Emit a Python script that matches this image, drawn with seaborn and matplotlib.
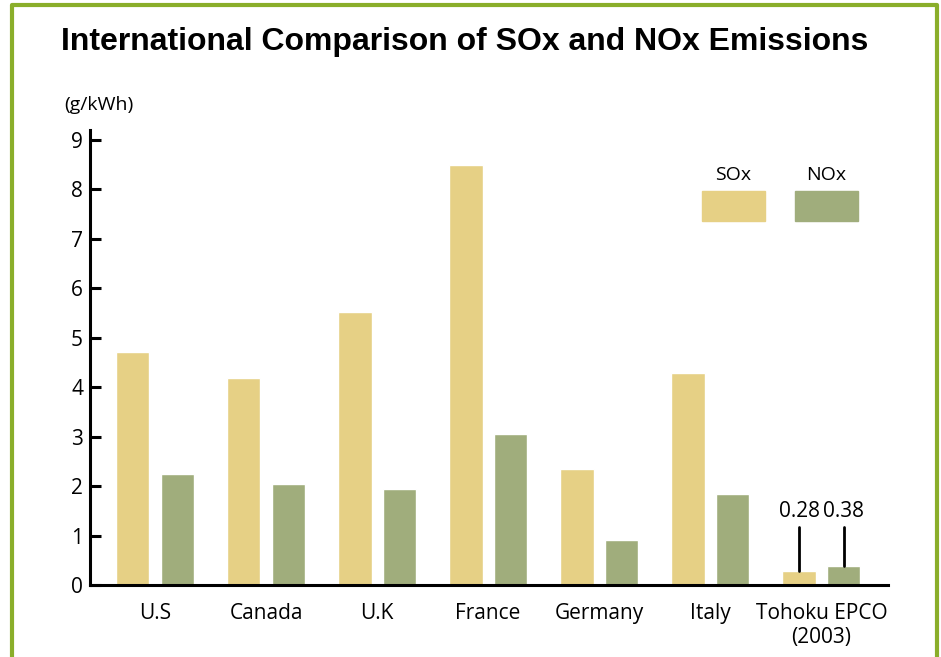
"""
International comparison of SOx and NOx emissions (g/kWh), grouped bars.
"""

import matplotlib
matplotlib.use("Agg")
import matplotlib.pyplot as plt
from matplotlib.lines import Line2D
from matplotlib.patches import Rectangle
import pandas as pd
import seaborn as sns

# Data
countries = ["U.S", "Canada", "U.K", "France", "Germany", "Italy", "Tohoku EPCO\n(2003)"]
sox = [4.72, 4.19, 5.53, 8.50, 2.35, 4.29, 0.28]
nox = [2.25, 2.04, 1.94, 3.06, 0.91, 1.84, 0.38]
gases = ["SOx", "NOx"]
y_ticks = [0, 1, 2, 3, 4, 5, 6, 7, 8, 9]

df = pd.DataFrame({
    "country": countries * 2,
    "gas": ["SOx"] * len(countries) + ["NOx"] * len(countries),
    "value": sox + nox,
})

sns.set_style("white")
plt.rcParams['font.family'] = ['Open Sans', 'DejaVu Sans']
plt.rcParams['text.color'] = 'black'
plt.rcParams['xtick.color'] = 'black'
plt.rcParams['ytick.color'] = 'black'

palette = {"SOx": "#e6d085", "NOx": "#a0ad7c"}
border_color = "#8aae2a"

fig = plt.figure(figsize=(9.41, 6.57), dpi=100)
ax = fig.add_axes([90 / 941, 72 / 657, (888 - 90) / 941, (585 - 130) / 657])

sns.barplot(data=df, x="country", y="value", hue="gas", palette=palette,
            width=0.8, gap=0.25, ax=ax, legend=False, saturation=1)

ax.set_xlim(-0.585, 6.6)
ax.set_ylim(0, 9.2)
ax.set_yticks(y_ticks)
ax.set_yticklabels([str(t) for t in y_ticks], fontsize=15)
ax.tick_params(axis="y", left=True, direction="in", length=8, width=2.2, pad=5, colors="black")
ax.tick_params(axis="x", bottom=False, length=0, pad=13, labelsize=15, colors="black")
ax.set_xlabel("")
ax.set_ylabel("")
for side in ["top", "right"]:
    ax.spines[side].set_visible(False)
for side in ["left", "bottom"]:
    ax.spines[side].set_linewidth(2.2)
    ax.spines[side].set_color("black")

# Value labels for Tohoku EPCO with leader lines
last = len(countries) - 1
for val, off in [(sox[last], -0.2), (nox[last], 0.2)]:
    x = last + off
    ax.plot([x, x], [val, 1.18], color="black", lw=2)
    ax.text(x, 1.28, f"{val:.2f}", ha="center", va="bottom", fontsize=15)

# Unit label
fig.text(64 / 941, 1 - 105 / 657, "(g/kWh)", ha="left", va="center", fontsize=14)

# Title
fig.text(465 / 941, 1 - 42 / 657, "International Comparison of SOx and NOx Emissions",
         ha="center", va="center", fontsize=23, fontweight="bold",
         family=["Liberation Sans", "DejaVu Sans"])

# Legend drawn as patches with labels above
for gas, x0 in zip(gases, [702, 795]):
    fig.patches.append(Rectangle((x0 / 941, 1 - 221 / 657), 63 / 941, 30 / 657,
                                 transform=fig.transFigure, color=palette[gas]))
    fig.text((x0 + 31.5) / 941, 1 - 175 / 657, gas, ha="center", va="center", fontsize=14)

# Green frame (open at the bottom)
lw = 3
fig.lines.append(Line2D([11.5 / 941, 11.5 / 941, 936.5 / 941, 936.5 / 941],
                        [0, 1 - 4.5 / 657, 1 - 4.5 / 657, 0],
                        transform=fig.transFigure, color=border_color, lw=lw))

fig.savefig("out.png", dpi=100)
